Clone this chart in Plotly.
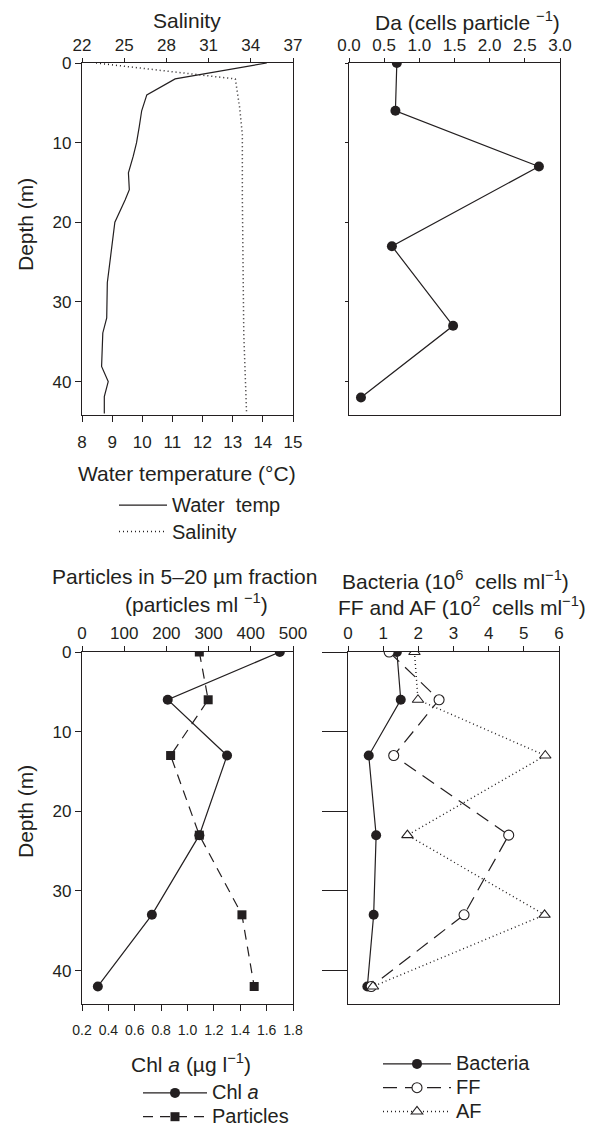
import plotly.graph_objects as go

# ---------------- data ----------------
# CTD profile (top-left panel)
depth_temp = [0, 2, 4, 6, 8, 10, 11.7, 13.8, 15.9, 17.2, 20, 27.6, 32, 33.9, 38.1, 40, 41.9, 44]
water_temp = [14.13, 11.09, 10.15, 9.98, 9.90, 9.81, 9.70, 9.54, 9.57, 9.43, 9.09, 8.84, 8.82, 8.69, 8.65, 8.87, 8.74, 8.74]
depth_sal = [0, 2, 5.5, 9, 17, 34, 44]
salinity = [23.0, 32.9, 33.2, 33.4, 33.4, 33.5, 33.7]

# discrete sampling depths
depth_st = [0, 6, 13, 23, 33, 42]
da = [0.68, 0.66, 2.70, 0.61, 1.48, 0.17]
chla = [1.70, 0.85, 1.30, 1.09, 0.73, 0.32]
particles = [278, 299, 210, 278, 379, 408]
bacteria = [1.39, 1.50, 0.59, 0.80, 0.73, 0.55]
ff = [1.17, 2.59, 1.30, 4.57, 3.30, 0.66]
af = [1.89, 1.99, 5.61, 1.69, 5.59, 0.71]

depth_ticks = [0, 10, 20, 30, 40]
temp_ticks = list(range(8, 16))
sal_ticks = list(range(22, 38, 3))
da_ticks = [0.0, 0.5, 1.0, 1.5, 2.0, 2.5, 3.0]
chl_ticks = [0.2, 0.4, 0.6, 0.8, 1.0, 1.2, 1.4, 1.6, 1.8]
part_ticks = [0, 100, 200, 300, 400, 500]
bac_ticks = [0, 1, 2, 3, 4, 5, 6]

# ---------------- layout helpers ----------------
W, H = 594, 1128
INK = "#231f20"
FONT = "Liberation Sans, Arial, sans-serif"
TICK = 17
TITLE = 21
LEG = 18
LEG_SMALL = 16
LEG_TEXT = 20


def px_x(a, b):
    return [a / W, b / W]


def px_y(top, bottom):
    return [1 - bottom / H, 1 - top / H]


def xpos(p):
    return p / W


def ypos(p):
    return 1 - p / H


def big(label):
    return '<span style="font-size:%dpx">%s</span>' % (LEG_TEXT, label)


DEPTH_RANGE = [44.2, 0]

fig = go.Figure()

# top-left: temperature & salinity
fig.add_trace(go.Scatter(x=water_temp, y=depth_temp, mode="lines", name=big("Water  temp"),
                         line=dict(color=INK, width=1.2), xaxis="x", yaxis="y", legend="legend"))
fig.add_trace(go.Scatter(x=salinity, y=depth_sal, mode="lines", name=big("Salinity"),
                         line=dict(color=INK, width=1.5, dash="1px,3px"), xaxis="x2", yaxis="y",
                         legend="legend"))

# top-right: Da
fig.add_trace(go.Scatter(x=da, y=depth_st, mode="lines+markers", name="Da",
                         line=dict(color=INK, width=1.2),
                         marker=dict(symbol="circle", size=10, color=INK),
                         xaxis="x3", yaxis="y2", showlegend=False))

# bottom-left: Chl a & particles
fig.add_trace(go.Scatter(x=chla, y=depth_st, mode="lines+markers", name=big("Chl <i>a</i>"),
                         line=dict(color=INK, width=1.2),
                         marker=dict(symbol="circle", size=10, color=INK),
                         xaxis="x4", yaxis="y3", legend="legend2"))
fig.add_trace(go.Scatter(x=particles, y=depth_st, mode="lines+markers", name=big("Particles"),
                         line=dict(color=INK, width=1.2, dash="10px,7px"),
                         marker=dict(symbol="square", size=9, color=INK),
                         xaxis="x5", yaxis="y3", legend="legend2"))

# bottom-right: bacteria, FF, AF
fig.add_trace(go.Scatter(x=bacteria, y=depth_st, mode="lines+markers", name=big("Bacteria"),
                         line=dict(color=INK, width=1.2),
                         marker=dict(symbol="circle", size=10, color=INK),
                         xaxis="x6", yaxis="y4", legend="legend3"))
fig.add_trace(go.Scatter(x=ff, y=depth_st, mode="lines+markers", name=big("FF"),
                         line=dict(color=INK, width=1.2, dash="14px,8px"),
                         marker=dict(symbol="circle", size=10, color="white",
                                     line=dict(color=INK, width=1.1)),
                         xaxis="x6", yaxis="y4", legend="legend3"))
fig.add_trace(go.Scatter(x=af, y=depth_st, mode="lines+markers", name=big("AF"),
                         line=dict(color=INK, width=1.4, dash="1px,3px"),
                         marker=dict(symbol="triangle-up", size=10, color="white",
                                     line=dict(color=INK, width=1.1)),
                         xaxis="x6", yaxis="y4", legend="legend3"))

axis_common = dict(showline=True, linecolor=INK, linewidth=1.2, ticks="outside",
                   tickcolor=INK, tickwidth=1.1, ticklen=5, showgrid=False, zeroline=False,
                   tickfont=dict(size=TICK, color=INK, family=FONT))

dom_tl_x = px_x(82, 293)
dom_tr_x = px_x(349, 560)
dom_bl_x = px_x(82, 293)
dom_br_x = px_x(348, 559)
dom_top_y = px_y(63, 415)
dom_bot_y = px_y(652, 1004)

legend_common = dict(xanchor="left", yanchor="top", bgcolor="rgba(0,0,0,0)",
                     font=dict(size=LEG, color=INK, family=FONT), tracegroupgap=0)
legend_small = dict(legend_common, font=dict(size=LEG_SMALL, color=INK, family=FONT))

layout = dict(
    width=W, height=H, margin=dict(l=0, r=0, t=0, b=0, pad=0, autoexpand=False),
    paper_bgcolor="white", plot_bgcolor="white",
    font=dict(family=FONT, color=INK, size=TICK),
    # top-left
    xaxis=dict(axis_common, domain=dom_tl_x, anchor="y", side="bottom", range=[8, 15],
               tickvals=temp_ticks, ticklen=6, ticklabelstandoff=5),
    xaxis2=dict(axis_common, domain=dom_tl_x, anchor="y", side="top", overlaying="x",
                range=[22, 37], tickvals=sal_ticks, ticklen=4),
    yaxis=dict(axis_common, domain=dom_top_y, anchor="x", range=DEPTH_RANGE,
               tickvals=depth_ticks, ticklen=6, mirror=True),
    # top-right
    xaxis3=dict(axis_common, domain=dom_tr_x, anchor="y2", side="top", range=[0, 3],
                tickvals=da_ticks, tickformat=".1f", ticklen=4, mirror=True),
    yaxis2=dict(axis_common, domain=dom_top_y, anchor="x3", range=DEPTH_RANGE,
                tickvals=depth_ticks, showticklabels=False, ticklen=3, mirror=True),
    # bottom-left
    xaxis4=dict(axis_common, domain=dom_bl_x, anchor="y3", side="bottom", range=[0.2, 1.8],
                tickvals=chl_ticks, tickformat=".1f", ticklen=6, ticklabelstandoff=7,
                tickfont=dict(size=14, color=INK, family=FONT)),
    xaxis5=dict(axis_common, domain=dom_bl_x, anchor="y3", side="top", overlaying="x4",
                range=[0, 500], tickvals=part_ticks),
    yaxis3=dict(axis_common, domain=dom_bot_y, anchor="x4", range=DEPTH_RANGE,
                tickvals=depth_ticks, ticklen=6, mirror=True),
    # bottom-right
    xaxis6=dict(axis_common, domain=dom_br_x, anchor="y4", side="top", range=[0, 6],
                tickvals=bac_ticks, mirror=True),
    yaxis4=dict(axis_common, domain=dom_bot_y, anchor="x6", range=DEPTH_RANGE,
                tickvals=depth_ticks, showticklabels=False, ticklen=25, mirror=True),
    legend=dict(legend_common, x=xpos(114), y=ypos(487), itemwidth=48),
    legend2=dict(legend_small, x=xpos(138), y=ypos(1076), itemwidth=64),
    legend3=dict(legend_small, x=xpos(378), y=ypos(1047), itemwidth=68),
)
fig.update_layout(**layout)


def ann(text, x, y, size=TITLE, angle=0):
    fig.add_annotation(text=text, x=xpos(x), y=ypos(y), xref="paper", yref="paper",
                       showarrow=False, xanchor="center", yanchor="middle",
                       font=dict(size=size, color=INK, family=FONT), textangle=angle)


ann("Salinity", 187, 21)
ann("Da (cells particle <sup>\u22121</sup>)", 467, 21)
ann("Water temperature (\u00b0C)", 187, 473)
ann("Depth (m)", 25, 225, angle=-90)
ann("Particles in 5\u201320 \u00b5m fraction", 184, 576)
ann("(particles ml <sup>\u22121</sup>)", 196, 603)
ann("Bacteria (10<sup>6</sup>  cells ml<sup>\u22121</sup>)", 456, 580)
ann("FF and AF (10<sup>2</sup>  cells ml<sup>\u22121</sup>)", 462, 606)
ann("Depth (m)", 25, 812, angle=-90)
ann("Chl <i>a</i> (\u00b5g l<sup>\u22121</sup>)", 191, 1063)

fig.write_html("out.html")
